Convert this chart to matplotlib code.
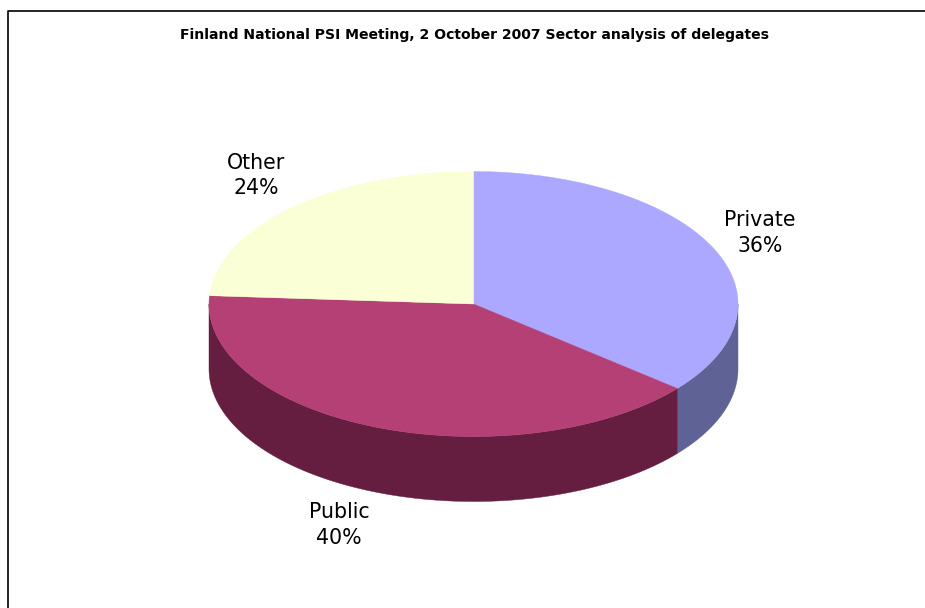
"""
Finland PSI meeting - sector analysis, drawn as a tilted 3D style pie.
"""
import numpy as np
import matplotlib
matplotlib.use("Agg")
import matplotlib.pyplot as plt

# data
sectors = ["Private", "Public", "Other"]
shares = [36, 40, 24]
top_colors = ["#aca8ff", "#b54075", "#fbffd5"]
side_colors = ["#5f6295", "#651e40", "#8f9179"]
title = "Finland National PSI Meeting, 2 October 2007 Sector analysis of delegates"

# pie geometry, in pixels of the figure
CX, CY = 473.5, 304
RX, RY = 264.5, 132.5
DEPTH = 65
label_pos = [(760, 233), (339, 525), (256, 175.5)]

fig = plt.figure(figsize=(9.25, 6.08), dpi=100)
ax = fig.add_axes([0, 0, 1, 1])
ax.set_xlim(0, 925)
ax.set_ylim(608, 0)
ax.axis("off")


def rim(a0, a1, dy=0):
    # points on the ellipse, angles clockwise from 12 o'clock
    t = np.radians(np.linspace(a0, a1, 200))
    return CX + RX * np.sin(t), CY - RY * np.cos(t) + dy


# frame, only top and left show in the crop
ax.plot([925, 8.2, 8.2], [11.2, 11.2, 608], color="black", lw=1.2, zorder=1)

ax.text(475, 35.5, title, ha="center", va="center", color="black",
        fontsize=10.07, fontweight="bold", family="DejaVu Sans")

edges = np.cumsum([0] + shares) * 3.6

# walls, only the front half of the rim is visible
for i in range(len(shares)):
    a0, a1 = max(edges[i], 90), min(edges[i + 1], 270)
    if a0 >= a1:
        continue
    x, y = rim(a0, a1)
    xb, yb = rim(a1, a0, DEPTH)
    ax.fill(np.r_[x, xb], np.r_[y, yb], color=side_colors[i], lw=0.3, zorder=2)

# top faces
for i in range(len(shares)):
    x, y = rim(edges[i], edges[i + 1])
    ax.fill(np.r_[CX, x], np.r_[CY, y], color=top_colors[i], lw=0.3, zorder=3)

for name, share, (lx, ly) in zip(sectors, shares, label_pos):
    ax.text(lx, ly, f"{name}\n{share}%", ha="center", va="center", color="black",
            fontsize=14.8, linespacing=1.32, zorder=4)

plt.savefig("out.png", dpi=100, facecolor="white")
plt.close()
